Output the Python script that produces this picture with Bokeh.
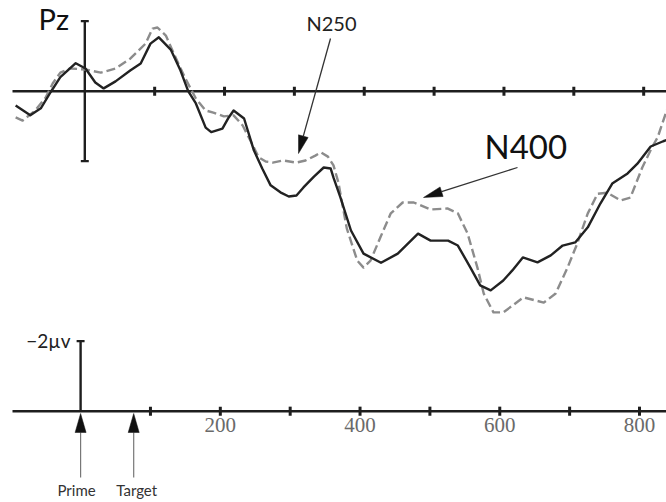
from bokeh.plotting import figure
from bokeh.models import Range1d
from bokeh.embed import file_html
from bokeh.resources import INLINE
from bokeh.core.properties import value

# ---------------- data (ms, microvolts; positive plotted downward) ----------------
solid_t = [-99, -78, -63, -49, -35, -13, 1, 15, 27, 44, 65, 80, 94, 106, 123, 137, 148, 159,
           173, 181, 197, 206, 213, 228, 242, 254, 266, 280, 292, 303, 313, 328, 342, 352,
           356, 366, 381, 399, 424, 448, 477, 495, 520, 534, 552, 566, 581, 599, 612, 627,
           648, 667, 684, 702, 720, 738, 755, 777, 791, 810, 828, 840]
solid_v = [0.41, 0.69, 0.49, 0.03, -0.40, -0.80, -0.65, -0.25, -0.08, -0.28, -0.59, -0.79,
           -1.36, -1.54, -1.19, -0.59, 0.0, 0.35, 1.04, 1.17, 1.07, 0.75, 0.55, 0.78, 1.69,
           2.21, 2.69, 2.89, 3.01, 2.98, 2.75, 2.44, 2.18, 2.21, 2.47, 3.04, 3.98, 4.64, 4.90,
           4.64, 4.07, 4.27, 4.27, 4.41, 5.04, 5.55, 5.69, 5.41, 5.12, 4.75, 4.89, 4.69, 4.41,
           4.32, 3.89, 3.21, 2.64, 2.35, 2.07, 1.58, 1.43, 1.35]

dashed_t = [-99, -89, -71, -56, -46, -35, -21, 1, 23, 44, 65, 87, 97, 104, 116, 130, 144,
            159, 173, 184, 199, 213, 226, 237, 249, 259, 269, 284, 303, 316, 330, 338, 348,
            356, 363, 375, 390, 399, 409, 423, 438, 455, 471, 495, 519, 534, 548, 562, 571,
            585, 599, 628, 657, 674, 691, 705, 720, 734, 748, 767, 781, 798, 812, 820, 833, 840]
dashed_v = [0.75, 0.84, 0.55, 0.18, -0.22, -0.53, -0.65, -0.62, -0.53, -0.65, -0.93, -1.36,
            -1.79, -1.82, -1.59, -0.96, -0.36, 0.21, 0.55, 0.61, 0.72, 0.69, 0.98, 1.41, 1.89,
            2.01, 2.04, 1.98, 2.04, 1.98, 1.84, 1.75, 1.87, 2.12, 2.61, 3.92, 4.84, 5.04, 4.84,
            4.18, 3.49, 3.18, 3.18, 3.38, 3.35, 3.49, 4.07, 5.04, 5.78, 6.32, 6.32, 5.89, 6.04,
            5.78, 5.04, 4.35, 3.49, 2.93, 2.90, 3.12, 3.04, 2.18, 1.60, 1.32, 0.55, 0.30]

tick_ms = [100, 200, 300, 400, 500, 600, 700, 800]
label_ms = [200, 400, 600, 800]
label_txt = ["200", "400", "600", "800"]
event_ms = [0, 76]
event_names = ["Prime", "Target"]
scale_uv = 2.0
scale_label = "\u22122\u00b5v"

# ---------------- layout (picture pixels) ----------------
W, H, OFF = 666, 502, 0
TOP_X0 = 84.3      # px of 0 ms on upper trace axis
BOT_X0 = 80.1      # px of 0 ms on calibration axis
PXMS = 0.6986      # px per ms
BASE = 90.7        # px of 0 uV baseline
PXUV = 35.0        # px per uV
CAL_BASE_PX = 410.7

def fxt(px):
    return (px - TOP_X0) / PXMS

def fxb(px):
    return (px - BOT_X0) / PXMS

def fy(py):
    return (py - BASE) / PXUV

def pxb(ms):
    return BOT_X0 + ms * PXMS

def fyt(baseline_px, size):
    # text anchor so that the glyph baseline lands on baseline_px
    return fy(baseline_px - 0.5 * size)

cal = fy(CAL_BASE_PX)

p = figure(width=W, height=H, output_backend="svg", toolbar_location=None,
           x_range=Range1d(fxt(OFF), fxt(OFF + W)),
           y_range=Range1d(fy(OFF + H), fy(OFF)),
           x_axis_type=None, y_axis_type=None, min_border=0,
           outline_line_color=None, background_fill_color="white",
           border_fill_color="white")
p.extra_x_ranges = {"bot": Range1d(fxb(OFF), fxb(OFF + W))}

AX = "#1e1e1e"
tick_h = 0.13
cap = 5.7

# upper baseline + ticks + Pz scale bar
p.line([fxt(12), fxt(680)], [0, 0], line_color=AX, line_width=2.4)
p.segment(x0=tick_ms, x1=tick_ms, y0=[-tick_h] * len(tick_ms), y1=[tick_h] * len(tick_ms),
          line_color=AX, line_width=3)
p.segment(x0=[0], x1=[0], y0=[-scale_uv], y1=[scale_uv], line_color=AX, line_width=2.4)
p.segment(x0=[-cap, -cap], x1=[cap, cap], y0=[-scale_uv, scale_uv], y1=[-scale_uv, scale_uv],
          line_color=AX, line_width=2.2)

# waveforms
p.line(dashed_t, dashed_v, line_color="#8c8c8c", line_width=2.4, line_dash="9 4",
       line_join="round")
p.line(solid_t, solid_v, line_color="#222222", line_width=2.4, line_join="round")

# calibration axis
p.line([fxb(12), fxb(680)], [cal, cal], line_color=AX, line_width=2.4, x_range_name="bot")
p.segment(x0=tick_ms, x1=tick_ms, y0=[cal - tick_h] * len(tick_ms),
          y1=[cal + tick_h] * len(tick_ms), line_color=AX, line_width=3, x_range_name="bot")
p.segment(x0=[0], x1=[0], y0=[cal - scale_uv], y1=[cal], line_color=AX, line_width=2.4,
          x_range_name="bot")
p.segment(x0=[-cap], x1=[cap], y0=[cal - scale_uv], y1=[cal - scale_uv], line_color=AX,
          line_width=2.2, x_range_name="bot")
p.text(x=label_ms, y=[fyt(435, 21)] * len(label_ms), text=label_txt,
       text_font=value("Liberation Serif"), text_font_size="21px", text_align="center",
       text_baseline="alphabetic", text_color="#6a6a6a", x_range_name="bot")
p.text(x=[fxb(70)], y=[fyt(349, 19)], text=[scale_label], text_font=value("Lato"),
       text_font_size="19px", text_align="right", text_baseline="alphabetic",
       text_color="#222222", x_range_name="bot")


def head(tip, tail, length, width):
    dx, dy = tip[0] - tail[0], tip[1] - tail[1]
    n = (dx * dx + dy * dy) ** 0.5
    ux, uy = dx / n, dy / n
    bx, by = tip[0] - ux * length, tip[1] - uy * length
    px_, py_ = -uy, ux
    pts = [tip, (bx + px_ * width / 2, by + py_ * width / 2),
           (bx - px_ * width / 2, by - py_ * width / 2)]
    return pts, (bx, by)


def arrow(tip, tail, length, width, color, lw, conv_x, rng):
    pts, base = head(tip, tail, length, width)
    kw = {} if rng is None else {"x_range_name": rng}
    p.line([conv_x(tail[0]), conv_x(base[0])], [fy(tail[1]), fy(base[1])],
           line_color=color, line_width=lw, **kw)
    p.patch([conv_x(q[0]) for q in pts], [fy(q[1]) for q in pts], fill_color="#111111",
            line_color="#111111", line_width=0.5, **kw)


# component labels and arrows
arrow((298, 153), (330, 38), 18, 10, "#333333", 1.3, fxt, None)
arrow((423, 197), (517, 167), 19, 10, "#333333", 1.3, fxt, None)
p.text(x=[fxt(38)], y=[fyt(32.5, 29)], text=["Pz"], text_font=value("Lato"),
       text_font_size="29px", text_baseline="alphabetic", text_color="#111111")
p.text(x=[fxt(306)], y=[fyt(32, 20)], text=["N250"], text_font=value("Lato"),
       text_font_size="20px", text_baseline="alphabetic", text_color="#222222")
p.text(x=[fxt(484)], y=[fyt(162, 33)], text=["N400"], text_font=value("Lato"),
       text_font_size="33px", text_baseline="alphabetic", text_color="#111111")

# event arrows
for ms, name, dxl in zip(event_ms, event_names, [-4, 3]):
    x = pxb(ms)
    arrow((x, 413), (x, 477), 19, 11, "#777777", 1.2, fxb, "bot")
    p.text(x=[fxb(x + dxl)], y=[fyt(497, 15)], text=[name], text_font=value("Lato"),
           text_font_size="15px", text_align="center", text_baseline="alphabetic",
           text_color="#333333", x_range_name="bot")

open("out.html", "w").write(file_html(p, INLINE))
